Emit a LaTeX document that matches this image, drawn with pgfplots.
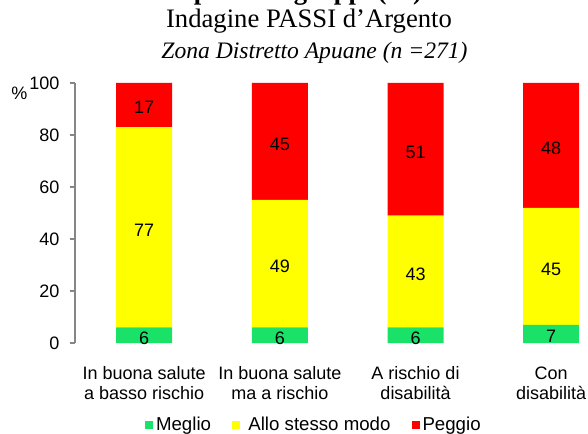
\documentclass[border=0pt]{standalone}
\usepackage{pgfplots}
\pgfplotsset{compat=1.18}
\usepackage{fontspec}
\setmainfont{Liberation Sans}
\newfontfamily\tms{Liberation Serif}
\definecolor{cgreen}{RGB}{26,226,104}
\definecolor{cyellow}{RGB}{255,255,0}
\definecolor{cred}{RGB}{255,0,0}
\definecolor{caxis}{RGB}{134,134,134}
\newcommand{\lblfont}{\fontsize{13.5}{15}\selectfont}
\begin{document}
\begin{tikzpicture}
\path[use as bounding box] (0pt,0pt) rectangle (441pt,-325.5pt);
\clip (0pt,0pt) rectangle (441pt,-325.5pt);
\begin{axis}[
  at={(56.25pt,-257.25pt)}, anchor=south west, scale only axis,
  width=408pt, height=195pt,
  ybar stacked, bar width=42pt,
  xmin=-0.51, xmax=3.5, ymin=0, ymax=100,
  axis y line=left, axis x line=bottom,
  x axis line style={draw=none},
  y axis line style={draw=caxis, line width=1.2pt, -},
  xtick={0,1,2,3},
  xticklabels={{In buona salute\\a basso rischio},{In buona salute\\ma a rischio},{A rischio di\\disabilità},{Con\\disabilità}},
  xtick style={draw=none},
  xticklabel style={align=center, font=\lblfont, anchor=north, yshift=-10.5pt},
  ytick={0,20,40,60,80,100},
  ytick style={draw=caxis, line width=1.2pt},
  tick align=outside, major tick length=3.75pt,
  yticklabel style={font=\lblfont, xshift=-4.5pt},
  /pgf/number format/assume math mode=true,
  legend columns=3,
  legend style={at={(0.44,-0.315)}, anchor=center, draw=none, fill=none,
    font=\fontsize{14}{16}\selectfont, /tikz/every even column/.append style={column sep=14pt},
    inner sep=0pt},
  legend image code/.code={\fill[#1] (0pt,-3pt) rectangle (6pt,3pt);},
]
\addplot[fill=cgreen, draw=none] coordinates {(0,6) (1,6) (2,6) (3,7)};
\addplot[fill=cyellow, draw=none] coordinates {(0,77) (1,49) (2,43) (3,45)};
\addplot[fill=cred, draw=none] coordinates {(0,17) (1,45) (2,51) (3,48)};
\legend{Meglio,\hspace{4pt}Allo stesso modo,Peggio}
\end{axis}
\begin{axis}[
  at={(56.25pt,-257.25pt)}, anchor=south west, scale only axis,
  width=408pt, height=195pt,
  xmin=-0.51, xmax=3.5, ymin=0, ymax=100, hide axis,
]
\addplot[draw=none, mark=none,
  nodes near coords, point meta=explicit symbolic,
  every node near coord/.append style={anchor=center, yshift=-2pt, font=\lblfont, text=black}]
  coordinates {(0,3)[6] (1,3)[6] (2,3)[6] (3,3.5)[7]
   (0,44.5)[77] (1,30.5)[49] (2,27.5)[43] (3,29.5)[45]
   (0,91.5)[17] (1,77.5)[45] (2,74.5)[51] (3,76)[48]};
\end{axis}
\begin{scope}[x=0.75pt,y=-0.75pt]
\node[anchor=base, font=\tms\bfseries\fontsize{20}{22}\selectfont, inner sep=0pt] at (308,-0.5) {per sottogruppi (\%)};
\node[anchor=base, font=\tms\fontsize{20}{22}\selectfont, inner sep=0pt] at (309,28) {Indagine PASSI d’Argento};
\node[anchor=base, font=\tms\itshape\fontsize{17.7}{20}\selectfont, inner sep=0pt] at (314.5,59) {Zona Distretto Apuane (n =271)};
\node[font=\lblfont, inner sep=0pt] at (19.5,93) {\%};
\end{scope}
\end{tikzpicture}
\end{document}
